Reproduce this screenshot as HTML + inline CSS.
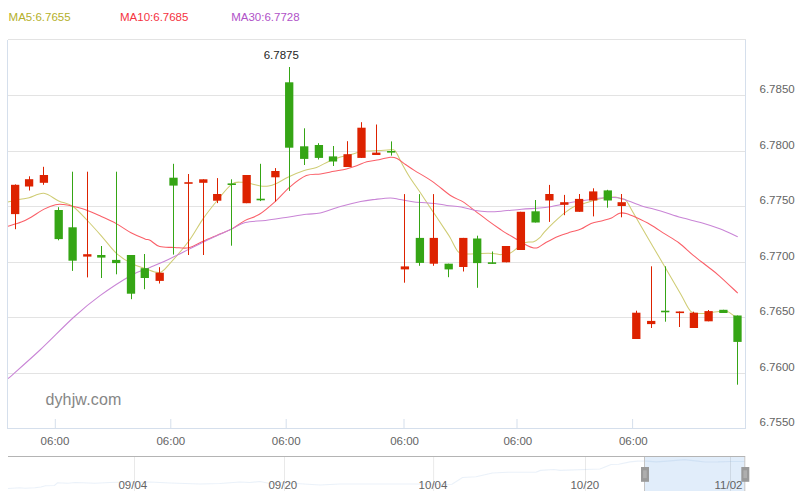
<!DOCTYPE html>
<html><head><meta charset="utf-8"><title>USD/CNY K-line</title>
<style>
html,body{margin:0;padding:0;background:#fff;}
body{width:800px;height:491px;overflow:hidden;position:relative;font-family:"Liberation Sans","DejaVu Sans",sans-serif;}
svg{position:absolute;left:0;top:0;display:block;}
svg text{font-family:"Liberation Sans","DejaVu Sans",sans-serif;}
</style></head><body>
<svg width="800" height="491" viewBox="0 0 800 491">
<g font-size="11.5"><text x="8.6" y="21" fill="#b4b02a">MA5:6.7655</text><text x="120" y="21" fill="#f5333f">MA10:6.7685</text><text x="231.2" y="21" fill="#b052c8">MA30:6.7728</text></g>
<g stroke="#e3e3e3" stroke-width="1" fill="none"><line x1="8" y1="39.5" x2="746" y2="39.5"/><line x1="8" y1="95.5" x2="745" y2="95.5"/><line x1="8" y1="151.5" x2="745" y2="151.5"/><line x1="8" y1="206.5" x2="745" y2="206.5"/><line x1="8" y1="262.5" x2="745" y2="262.5"/><line x1="8" y1="317.5" x2="745" y2="317.5"/><line x1="8" y1="373.5" x2="745" y2="373.5"/></g>
<g font-size="11.5" fill="#646464"><text x="759.5" y="92.97">6.7850</text><text x="759.5" y="148.54">6.7800</text><text x="759.5" y="204.11">6.7750</text><text x="759.5" y="259.69">6.7700</text><text x="759.5" y="315.26">6.7650</text><text x="759.5" y="370.83">6.7600</text><text x="759.5" y="426.40">6.7550</text></g>
<text x="45.4" y="404.7" font-size="16" letter-spacing="0.15" fill="#868686">dyhjw.com</text>
<g fill="none" stroke-width="1.05" stroke-linejoin="round"><path d="M8.00,202.10 C10.07,201.63 16.88,200.03 20.40,199.30 C23.92,198.57 25.18,198.70 29.10,197.70 C33.02,196.70 38.97,192.75 43.90,193.30 C48.83,193.85 53.92,198.83 58.70,201.00 C63.48,203.17 67.83,203.05 72.60,206.30 C77.37,209.55 82.52,215.58 87.30,220.50 C92.08,225.42 96.48,230.37 101.30,235.80 C106.12,241.23 111.25,248.52 116.20,253.10 C121.15,257.68 126.23,260.75 131.00,263.30 C135.77,265.85 140.02,266.87 144.80,268.40 C149.58,269.93 155.50,273.35 159.70,272.50 C163.90,271.65 165.17,268.50 170.00,263.30 C174.83,258.10 183.20,248.70 188.70,241.30 C194.20,233.90 198.25,225.70 203.00,218.90 C207.75,212.10 212.45,206.27 217.20,200.50 C221.95,194.73 227.37,187.35 231.50,184.30 C235.63,181.25 238.70,182.28 242.00,182.20 C245.30,182.12 248.22,183.17 251.30,183.80 C254.38,184.43 257.62,185.63 260.50,186.00 C263.38,186.37 266.07,186.37 268.60,186.00 C271.13,185.63 272.30,185.35 275.70,183.80 C279.10,182.25 284.25,178.92 289.00,176.70 C293.75,174.48 299.62,172.03 304.20,170.50 C308.78,168.97 312.42,169.02 316.50,167.50 C320.58,165.98 325.07,163.03 328.70,161.40 C332.33,159.77 334.67,158.83 338.30,157.70 C341.93,156.57 347.27,155.45 350.50,154.60 C353.73,153.75 354.98,153.20 357.70,152.60 C360.42,152.00 363.25,151.35 366.80,151.00 C370.35,150.65 374.93,150.70 379.00,150.50 C383.07,150.30 388.47,149.72 391.20,149.80 C393.93,149.88 393.68,148.83 395.40,151.00 C397.12,153.17 399.13,158.47 401.50,162.80 C403.87,167.13 406.45,172.00 409.60,177.00 C412.75,182.00 416.57,187.12 420.40,192.80 C424.23,198.48 428.53,205.00 432.60,211.10 C436.67,217.20 441.87,224.97 444.80,229.40 C447.73,233.83 447.95,233.95 450.20,237.70 C452.45,241.45 455.58,249.18 458.30,251.90 C461.02,254.62 462.77,253.75 466.50,254.00 C470.23,254.25 476.28,253.50 480.70,253.40 C485.12,253.30 489.60,253.20 493.00,253.40 C496.40,253.60 498.22,254.67 501.10,254.60 C503.98,254.53 507.58,254.12 510.30,253.00 C513.02,251.88 514.87,249.67 517.40,247.90 C519.93,246.13 522.78,243.42 525.50,242.40 C528.22,241.38 531.32,242.58 533.70,241.80 C536.08,241.02 538.03,239.32 539.80,237.70 C541.57,236.08 541.87,234.73 544.30,232.10 C546.73,229.47 551.02,225.12 554.40,221.90 C557.78,218.68 561.20,215.40 564.60,212.80 C568.00,210.20 571.07,208.00 574.80,206.30 C578.53,204.60 582.93,203.80 587.00,202.60 C591.07,201.40 595.80,199.95 599.20,199.10 C602.60,198.25 604.68,197.83 607.40,197.50 C610.12,197.17 613.07,196.85 615.50,197.10 C617.93,197.35 620.23,198.47 622.00,199.00 C623.77,199.53 624.05,197.70 626.10,200.30 C628.15,202.90 630.57,208.17 634.30,214.60 C638.03,221.03 644.10,231.37 648.50,238.90 C652.90,246.43 655.37,250.65 660.70,259.80 C666.03,268.95 675.50,285.22 680.50,293.80 C685.50,302.38 687.30,308.02 690.70,311.30 C694.10,314.58 697.50,313.30 700.90,313.50 C704.30,313.70 708.05,312.83 711.10,312.50 C714.15,312.17 716.48,311.67 719.20,311.50 C721.92,311.33 725.02,310.83 727.40,311.50 C729.78,312.17 731.77,314.42 733.50,315.50 C735.23,316.58 737.04,317.58 737.75,318.00" stroke="#cfcc74"/><path d="M8.00,226.20 C10.22,225.52 17.45,223.60 21.30,222.10 C25.15,220.60 27.30,219.37 31.10,217.20 C34.90,215.03 40.03,211.18 44.10,209.10 C48.17,207.02 52.25,205.47 55.50,204.70 C58.75,203.93 60.75,204.23 63.60,204.50 C66.45,204.77 68.65,205.32 72.60,206.30 C76.55,207.28 82.52,208.70 87.30,210.40 C92.08,212.10 96.48,214.30 101.30,216.50 C106.12,218.70 111.25,220.88 116.20,223.60 C121.15,226.32 126.23,230.25 131.00,232.80 C135.77,235.35 141.63,237.65 144.80,238.90 C147.97,240.15 147.52,239.02 150.00,240.30 C152.48,241.58 155.63,245.42 159.70,246.60 C163.77,247.78 169.57,247.20 174.40,247.40 C179.23,247.60 183.93,248.82 188.70,247.80 C193.47,246.78 198.25,243.40 203.00,241.30 C207.75,239.20 212.45,237.23 217.20,235.20 C221.95,233.17 226.83,231.57 231.50,229.10 C236.17,226.63 240.55,222.87 245.20,220.40 C249.85,217.93 254.32,217.52 259.40,214.30 C264.48,211.08 270.60,205.68 275.70,201.10 C280.80,196.52 284.90,191.05 290.00,186.80 C295.10,182.55 301.22,177.75 306.30,175.60 C311.38,173.45 315.88,174.62 320.50,173.90 C325.12,173.18 329.67,172.13 334.00,171.30 C338.33,170.47 342.72,169.82 346.50,168.90 C350.28,167.98 353.32,166.98 356.70,165.80 C360.08,164.62 363.08,162.82 366.80,161.80 C370.52,160.78 375.08,160.45 379.00,159.70 C382.92,158.95 387.30,157.50 390.30,157.30 C393.30,157.10 394.47,157.30 397.00,158.50 C399.53,159.70 402.62,162.52 405.50,164.50 C408.38,166.48 409.78,167.55 414.30,170.40 C418.82,173.25 426.50,177.37 432.60,181.60 C438.70,185.83 445.82,192.42 450.90,195.80 C455.98,199.18 459.02,199.35 463.10,201.90 C467.18,204.45 471.32,208.03 475.40,211.10 C479.48,214.17 483.53,217.32 487.60,220.30 C491.67,223.28 496.87,226.95 499.80,229.00 C502.73,231.05 502.27,230.82 505.20,232.60 C508.13,234.38 513.67,237.50 517.40,239.70 C521.13,241.90 524.88,244.43 527.60,245.80 C530.32,247.17 531.95,247.63 533.70,247.90 C535.45,248.17 536.00,248.33 538.10,247.40 C540.20,246.47 542.90,244.17 546.30,242.30 C549.70,240.43 554.43,237.90 558.50,236.20 C562.57,234.50 566.97,233.28 570.70,232.10 C574.43,230.92 577.50,230.55 580.90,229.10 C584.30,227.65 587.37,224.83 591.10,223.40 C594.83,221.97 599.90,221.42 603.30,220.50 C606.70,219.58 608.78,219.12 611.50,217.90 C614.22,216.68 617.17,213.93 619.60,213.20 C622.03,212.47 623.32,212.77 626.10,213.50 C628.88,214.23 632.23,215.73 636.30,217.60 C640.37,219.47 645.75,221.98 650.50,224.70 C655.25,227.42 660.03,230.85 664.80,233.90 C669.57,236.95 674.35,239.43 679.10,243.00 C683.85,246.57 688.55,251.38 693.30,255.30 C698.05,259.22 703.28,263.08 707.60,266.50 C711.92,269.92 714.18,271.37 719.20,275.80 C724.23,280.23 734.66,290.22 737.75,293.10" stroke="#fa5f68"/><path d="M8.00,378.70 C13.33,373.92 29.00,360.28 40.00,350.00 C51.00,339.72 64.00,326.05 74.00,317.00 C84.00,307.95 90.50,302.62 100.00,295.70 C109.50,288.78 122.67,280.22 131.00,275.50 C139.33,270.78 143.43,270.25 150.00,267.40 C156.57,264.55 163.95,261.40 170.40,258.40 C176.85,255.40 183.27,252.08 188.70,249.40 C194.13,246.72 198.25,244.60 203.00,242.30 C207.75,240.00 212.45,237.80 217.20,235.60 C221.95,233.40 226.83,231.28 231.50,229.10 C236.17,226.92 239.53,223.95 245.20,222.50 C250.87,221.05 258.72,221.25 265.50,220.40 C272.28,219.55 279.10,218.42 285.90,217.40 C292.70,216.38 300.58,215.03 306.30,214.30 C312.02,213.57 314.52,214.28 320.20,213.00 C325.88,211.72 333.65,208.52 340.40,206.60 C347.15,204.68 354.93,202.70 360.70,201.50 C366.47,200.30 370.07,199.98 375.00,199.40 C379.93,198.82 386.13,197.98 390.30,198.00 C394.47,198.02 396.00,198.85 400.00,199.50 C404.00,200.15 408.53,201.25 414.30,201.90 C420.07,202.55 429.18,202.82 434.60,203.40 C440.02,203.98 442.38,204.80 446.80,205.40 C451.22,206.00 456.33,206.15 461.10,207.00 C465.87,207.85 470.98,209.72 475.40,210.50 C479.82,211.28 483.32,211.58 487.60,211.70 C491.88,211.82 495.45,211.62 501.10,211.20 C506.75,210.78 515.05,209.72 521.50,209.20 C527.95,208.68 534.98,208.52 539.80,208.10 C544.62,207.68 545.25,207.62 550.40,206.70 C555.55,205.78 563.92,203.80 570.70,202.60 C577.48,201.40 586.00,200.25 591.10,199.50 C596.20,198.75 597.90,198.43 601.30,198.10 C604.70,197.77 608.12,197.43 611.50,197.50 C614.88,197.57 616.78,197.18 621.60,198.50 C626.42,199.82 633.88,203.30 640.40,205.40 C646.92,207.50 653.92,209.07 660.70,211.10 C667.48,213.13 674.30,215.67 681.10,217.60 C687.90,219.53 695.05,220.83 701.50,222.70 C707.95,224.57 713.76,226.47 719.80,228.80 C725.84,231.13 734.76,235.38 737.75,236.70" stroke="#c985d6"/></g>
<g shape-rendering="auto"><line x1="15.50" y1="184.40" x2="15.50" y2="229.20" stroke="#dd2200" stroke-width="1"/><rect x="11.00" y="184.80" width="8.3" height="29.30" fill="#dd2200"/><line x1="29.50" y1="176.30" x2="29.50" y2="190.50" stroke="#dd2200" stroke-width="1"/><rect x="24.95" y="179.20" width="8.3" height="7.30" fill="#dd2200"/><line x1="43.50" y1="166.80" x2="43.50" y2="184.80" stroke="#dd2200" stroke-width="1"/><rect x="39.75" y="175.00" width="8.3" height="7.80" fill="#dd2200"/><line x1="58.50" y1="207.20" x2="58.50" y2="240.30" stroke="#35a515" stroke-width="1"/><rect x="54.55" y="210.00" width="8.3" height="29.10" fill="#35a515"/><line x1="72.50" y1="171.70" x2="72.50" y2="270.90" stroke="#35a515" stroke-width="1"/><rect x="68.45" y="227.30" width="8.3" height="33.40" fill="#35a515"/><line x1="87.50" y1="171.70" x2="87.50" y2="277.40" stroke="#dd2200" stroke-width="1"/><rect x="83.15" y="254.20" width="8.3" height="2.40" fill="#dd2200"/><line x1="101.50" y1="246.00" x2="101.50" y2="278.00" stroke="#35a515" stroke-width="1"/><rect x="97.15" y="255.00" width="8.3" height="2.60" fill="#35a515"/><line x1="116.50" y1="171.70" x2="116.50" y2="274.30" stroke="#35a515" stroke-width="1"/><rect x="112.05" y="259.90" width="8.3" height="3.20" fill="#35a515"/><line x1="131.50" y1="255.00" x2="131.50" y2="299.20" stroke="#35a515" stroke-width="1"/><rect x="126.85" y="255.00" width="8.3" height="38.70" fill="#35a515"/><line x1="144.50" y1="254.00" x2="144.50" y2="289.20" stroke="#35a515" stroke-width="1"/><rect x="140.65" y="268.20" width="8.3" height="9.80" fill="#35a515"/><line x1="159.50" y1="267.20" x2="159.50" y2="283.50" stroke="#dd2200" stroke-width="1"/><rect x="155.55" y="272.70" width="8.3" height="8.20" fill="#dd2200"/><line x1="173.50" y1="163.80" x2="173.50" y2="254.60" stroke="#35a515" stroke-width="1"/><rect x="169.35" y="177.70" width="8.3" height="7.90" fill="#35a515"/><line x1="188.50" y1="174.00" x2="188.50" y2="255.00" stroke="#dd2200" stroke-width="1"/><rect x="184.35" y="182.20" width="8.3" height="1.60" fill="#dd2200"/><line x1="203.50" y1="179.30" x2="203.50" y2="255.00" stroke="#dd2200" stroke-width="1"/><rect x="199.15" y="179.30" width="8.3" height="3.50" fill="#dd2200"/><line x1="217.50" y1="178.10" x2="217.50" y2="203.10" stroke="#dd2200" stroke-width="1"/><rect x="213.05" y="194.00" width="8.3" height="6.70" fill="#dd2200"/><line x1="231.50" y1="179.30" x2="231.50" y2="245.70" stroke="#35a515" stroke-width="1"/><rect x="227.60" y="183.40" width="8.3" height="1.60" fill="#35a515"/><line x1="246.50" y1="175.00" x2="246.50" y2="203.20" stroke="#dd2200" stroke-width="1"/><rect x="242.50" y="175.00" width="8.3" height="28.20" fill="#dd2200"/><line x1="260.50" y1="163.80" x2="260.50" y2="201.10" stroke="#35a515" stroke-width="1"/><rect x="256.55" y="198.70" width="8.3" height="1.60" fill="#35a515"/><line x1="275.50" y1="168.10" x2="275.50" y2="201.50" stroke="#dd2200" stroke-width="1"/><rect x="271.25" y="171.00" width="8.3" height="6.30" fill="#dd2200"/><line x1="289.50" y1="67.00" x2="289.50" y2="190.90" stroke="#35a515" stroke-width="1"/><rect x="285.05" y="82.30" width="8.3" height="65.40" fill="#35a515"/><line x1="304.50" y1="128.30" x2="304.50" y2="165.00" stroke="#35a515" stroke-width="1"/><rect x="300.05" y="146.30" width="8.3" height="12.60" fill="#35a515"/><line x1="318.50" y1="143.20" x2="318.50" y2="159.50" stroke="#35a515" stroke-width="1"/><rect x="314.75" y="145.00" width="8.3" height="12.90" fill="#35a515"/><line x1="333.50" y1="146.00" x2="333.50" y2="166.00" stroke="#35a515" stroke-width="1"/><rect x="328.85" y="156.40" width="8.3" height="5.10" fill="#35a515"/><line x1="347.50" y1="141.20" x2="347.50" y2="167.00" stroke="#dd2200" stroke-width="1"/><rect x="343.45" y="154.20" width="8.3" height="12.80" fill="#dd2200"/><line x1="361.50" y1="122.20" x2="361.50" y2="157.90" stroke="#dd2200" stroke-width="1"/><rect x="357.35" y="127.70" width="8.3" height="30.20" fill="#dd2200"/><line x1="376.50" y1="124.50" x2="376.50" y2="155.00" stroke="#dd2200" stroke-width="1"/><rect x="372.15" y="152.60" width="8.3" height="2.40" fill="#dd2200"/><line x1="391.50" y1="141.40" x2="391.50" y2="155.60" stroke="#35a515" stroke-width="1"/><rect x="387.05" y="151.00" width="8.3" height="1.60" fill="#35a515"/><line x1="404.50" y1="194.10" x2="404.50" y2="282.70" stroke="#dd2200" stroke-width="1"/><rect x="400.75" y="266.40" width="8.3" height="3.00" fill="#dd2200"/><line x1="419.50" y1="194.10" x2="419.50" y2="265.80" stroke="#35a515" stroke-width="1"/><rect x="415.75" y="237.90" width="8.3" height="25.00" fill="#35a515"/><line x1="433.50" y1="194.10" x2="433.50" y2="265.80" stroke="#dd2200" stroke-width="1"/><rect x="429.65" y="237.90" width="8.3" height="25.80" fill="#dd2200"/><line x1="448.50" y1="263.70" x2="448.50" y2="277.20" stroke="#35a515" stroke-width="1"/><rect x="444.55" y="263.70" width="8.3" height="5.70" fill="#35a515"/><line x1="463.50" y1="237.90" x2="463.50" y2="271.50" stroke="#dd2200" stroke-width="1"/><rect x="459.15" y="237.90" width="8.3" height="29.10" fill="#dd2200"/><line x1="477.50" y1="235.70" x2="477.50" y2="287.80" stroke="#35a515" stroke-width="1"/><rect x="473.05" y="238.50" width="8.3" height="24.60" fill="#35a515"/><line x1="492.50" y1="251.50" x2="492.50" y2="263.70" stroke="#35a515" stroke-width="1"/><rect x="487.85" y="262.30" width="8.3" height="1.60" fill="#35a515"/><line x1="506.50" y1="246.00" x2="506.50" y2="262.30" stroke="#dd2200" stroke-width="1"/><rect x="501.85" y="246.00" width="8.3" height="16.30" fill="#dd2200"/><line x1="520.50" y1="211.80" x2="520.50" y2="250.00" stroke="#dd2200" stroke-width="1"/><rect x="516.75" y="211.80" width="8.3" height="38.20" fill="#dd2200"/><line x1="535.50" y1="200.00" x2="535.50" y2="222.50" stroke="#35a515" stroke-width="1"/><rect x="531.45" y="211.30" width="8.3" height="11.20" fill="#35a515"/><line x1="549.50" y1="184.90" x2="549.50" y2="221.90" stroke="#dd2200" stroke-width="1"/><rect x="545.25" y="194.00" width="8.3" height="6.50" fill="#dd2200"/><line x1="564.50" y1="194.90" x2="564.50" y2="215.20" stroke="#dd2200" stroke-width="1"/><rect x="560.15" y="202.20" width="8.3" height="2.60" fill="#dd2200"/><line x1="579.50" y1="194.00" x2="579.50" y2="211.80" stroke="#dd2200" stroke-width="1"/><rect x="574.95" y="198.90" width="8.3" height="12.90" fill="#dd2200"/><line x1="593.50" y1="188.30" x2="593.50" y2="216.40" stroke="#dd2200" stroke-width="1"/><rect x="589.05" y="191.40" width="8.3" height="9.10" fill="#dd2200"/><line x1="607.50" y1="189.80" x2="607.50" y2="207.70" stroke="#35a515" stroke-width="1"/><rect x="603.65" y="190.40" width="8.3" height="10.10" fill="#35a515"/><line x1="621.50" y1="194.00" x2="621.50" y2="217.30" stroke="#dd2200" stroke-width="1"/><rect x="617.55" y="202.20" width="8.3" height="3.80" fill="#dd2200"/><line x1="636.50" y1="310.70" x2="636.50" y2="339.00" stroke="#dd2200" stroke-width="1"/><rect x="632.15" y="312.70" width="8.3" height="26.30" fill="#dd2200"/><line x1="651.50" y1="266.30" x2="651.50" y2="328.00" stroke="#dd2200" stroke-width="1"/><rect x="647.05" y="320.90" width="8.3" height="3.20" fill="#dd2200"/><line x1="665.50" y1="266.30" x2="665.50" y2="321.70" stroke="#35a515" stroke-width="1"/><rect x="661.05" y="310.70" width="8.3" height="1.60" fill="#35a515"/><line x1="679.50" y1="311.50" x2="679.50" y2="327.00" stroke="#dd2200" stroke-width="1"/><rect x="675.75" y="311.50" width="8.3" height="1.60" fill="#dd2200"/><line x1="693.50" y1="311.70" x2="693.50" y2="328.00" stroke="#dd2200" stroke-width="1"/><rect x="689.75" y="312.70" width="8.3" height="15.30" fill="#dd2200"/><line x1="708.50" y1="310.00" x2="708.50" y2="321.30" stroke="#dd2200" stroke-width="1"/><rect x="704.45" y="311.10" width="8.3" height="10.20" fill="#dd2200"/><line x1="723.50" y1="309.80" x2="723.50" y2="313.00" stroke="#35a515" stroke-width="1"/><rect x="719.25" y="309.80" width="8.3" height="3.20" fill="#35a515"/><line x1="737.50" y1="315.50" x2="737.50" y2="384.70" stroke="#35a515" stroke-width="1"/><rect x="733.35" y="315.50" width="8.3" height="26.40" fill="#35a515"/></g>
<text x="281.3" y="59.3" font-size="11.5" fill="#262626" text-anchor="middle">6.7875</text>
<g stroke="#d5dfec" stroke-width="1" fill="none"><line x1="7.5" y1="40" x2="7.5" y2="429"/><line x1="745.5" y1="40" x2="745.5" y2="429"/><line x1="7" y1="428.5" x2="746" y2="428.5"/><line x1="55.3" y1="419" x2="55.3" y2="428"/><line x1="170.8" y1="419" x2="170.8" y2="428"/><line x1="286.2" y1="419" x2="286.2" y2="428"/><line x1="404.0" y1="419" x2="404.0" y2="428"/><line x1="517.0" y1="419" x2="517.0" y2="428"/><line x1="632.6" y1="419" x2="632.6" y2="428"/></g>
<g font-size="11.5" fill="#646464" text-anchor="middle"><text x="55.0" y="445.4">06:00</text><text x="170.8" y="445.4">06:00</text><text x="286.2" y="445.4">06:00</text><text x="404.6" y="445.4">06:00</text><text x="517.8" y="445.4">06:00</text><text x="633.3" y="445.4">06:00</text></g>
<g><rect x="645" y="457" width="99.5" height="34" fill="#e1edfa"/><line x1="134.5" y1="457" x2="134.5" y2="491" stroke="#000" stroke-opacity="0.085" stroke-width="1"/><line x1="284.5" y1="457" x2="284.5" y2="491" stroke="#000" stroke-opacity="0.085" stroke-width="1"/><line x1="433.6" y1="457" x2="433.6" y2="491" stroke="#000" stroke-opacity="0.085" stroke-width="1"/><line x1="585.5" y1="457" x2="585.5" y2="491" stroke="#000" stroke-opacity="0.085" stroke-width="1"/><line x1="730.5" y1="457" x2="730.5" y2="491" stroke="#000" stroke-opacity="0.085" stroke-width="1"/><path d="M8.0,488.5 L20.0,487.7 L25.0,488.2 L35.0,487.7 L41.0,487.0 L45.5,485.8 L54.5,485.5 L57.5,482.8 L68.0,483.2 L75.5,482.5 L95.0,483.2 L110.0,482.5 L117.5,482.2 L150.0,482.0 L170.0,483.0 L200.0,484.0 L220.0,483.5 L240.0,482.0 L250.0,482.5 L260.0,481.5 L270.0,483.5 L280.0,482.5 L300.0,483.8 L320.0,485.0 L340.0,484.0 L380.0,484.0 L420.0,484.0 L445.0,484.5 L452.0,484.2 L462.5,477.5 L476.0,476.7 L492.5,473.0 L507.5,472.2 L536.0,472.2 L540.5,470.4 L554.0,469.5 L560.0,470.4 L600.0,469.0 L605.0,466.9 L611.0,464.5 L618.8,464.3 L630.0,461.9 L637.5,461.1 L646.0,461.1 L656.3,461.9 L667.5,461.1 L684.4,459.6 L697.6,461.1 L705.0,462.0 L718.0,461.9 L731.0,461.5 L745.0,461.5" fill="none" stroke="#7aa6dc" stroke-opacity="0.16" stroke-width="1.1"/><line x1="644.5" y1="457" x2="644.5" y2="491" stroke="#c4c4c4"/><line x1="744.8" y1="457" x2="744.8" y2="491" stroke="#c4c4c4"/><line x1="8" y1="456.5" x2="745.3" y2="456.5" stroke="#b4b4b4"/><rect x="641.0" y="467" width="8" height="14.8" fill="#9a9a9a"/><rect x="643.1" y="470.3" width="3.6" height="7.8" fill="#aeaeae"/><rect x="741.3" y="467" width="8" height="14.8" fill="#9a9a9a"/><rect x="743.4" y="470.3" width="3.6" height="7.8" fill="#aeaeae"/></g>
<g font-size="11.5" fill="#646464" text-anchor="middle"><text x="132.8" y="489">09/04</text><text x="282.8" y="489">09/20</text><text x="433.0" y="489">10/04</text><text x="584.8" y="489">10/20</text><text x="728.5" y="489">11/02</text></g>
</svg>
</body></html>
